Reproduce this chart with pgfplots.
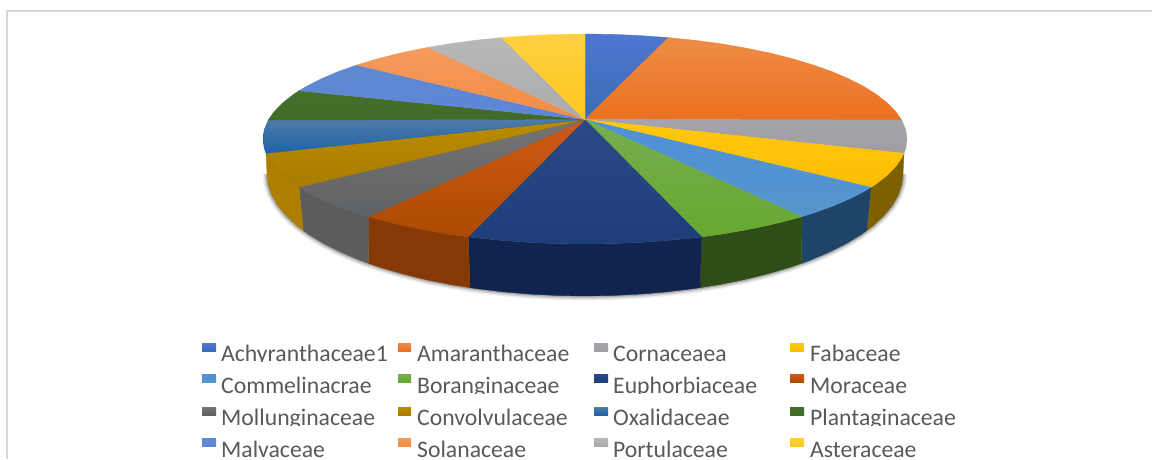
\documentclass[border=0pt]{standalone}
\usepackage{pgfplots}
\usepackage{pgfplotstable}
\usepackage{fontspec}
\setmainfont{Carlito}
\pgfplotsset{compat=1.18}
\pgfplotstableread{
x y
267 174
268.2 184.6
271.8 195.2
277.8 205.6
286.2 215.7
296.8 225.6
309.6 235
324.5 244
341.4 252.4
360.1 260.3
380.6 267.5
402.6 273.9
426 279.7
450.6 284.6
476.2 288.6
502.7 291.8
529.8 294.1
557.3 295.5
585 296
612.7 295.5
640.2 294.1
667.3 291.8
693.8 288.6
719.4 284.6
744 279.7
767.4 273.9
789.4 267.5
809.9 260.3
828.6 252.4
845.5 244
860.4 235
873.2 225.6
883.8 215.7
892.2 205.6
898.2 195.2
901.8 184.6
903 174
}\shadowarc
\newcommand{\legrow}[5]{%
  \begin{scope}
    \clip (axis cs:195,#1-24) rectangle (axis cs:1000,#1+0.8);
    \node[anchor=base west,inner sep=0,text=txt] at (axis cs:221,#1) {\fontsize{23.7}{28}\selectfont #2};
    \node[anchor=base west,inner sep=0,text=txt] at (axis cs:417,#1) {\fontsize{23.7}{28}\selectfont #3};
    \node[anchor=base west,inner sep=0,text=txt] at (axis cs:613,#1) {\fontsize{23.7}{28}\selectfont #4};
    \node[anchor=base west,inner sep=0,text=txt] at (axis cs:810,#1) {\fontsize{23.7}{28}\selectfont #5};
  \end{scope}}
\definecolor{txt}{HTML}{595959}
\definecolor{frame}{HTML}{D9D9D9}
\definecolor{c1}{HTML}{4472C4}\definecolor{c1a}{HTML}{4F76D2}\definecolor{c1b}{HTML}{3A6CB5}
\definecolor{c2}{HTML}{ED7D31}\definecolor{c2a}{HTML}{EE8C45}\definecolor{c2b}{HTML}{EC7020}
\definecolor{c3}{HTML}{A5A5A5}\definecolor{c3a}{HTML}{A6A4AC}\definecolor{c3b}{HTML}{9E9E9E}
\definecolor{c4}{HTML}{FFC000}\definecolor{c4a}{HTML}{FFC80E}\definecolor{c4b}{HTML}{FDBD00}
\definecolor{c5}{HTML}{5B9BD5}\definecolor{c5a}{HTML}{4F8FD8}\definecolor{c5b}{HTML}{5596CC}
\definecolor{c6}{HTML}{70AD47}\definecolor{c6a}{HTML}{76AE50}\definecolor{c6b}{HTML}{66A82F}
\definecolor{c7}{HTML}{264478}\definecolor{c7a}{HTML}{2A4A85}\definecolor{c7b}{HTML}{1D3E78}
\definecolor{c8}{HTML}{9E480E}\definecolor{c8a}{HTML}{D05A14}\definecolor{c8b}{HTML}{AC4A00}
\definecolor{c9}{HTML}{636363}\definecolor{c9a}{HTML}{757375}\definecolor{c9b}{HTML}{5F6264}
\definecolor{c10}{HTML}{997300}\definecolor{c10a}{HTML}{BB8C00}\definecolor{c10b}{HTML}{A87C00}
\definecolor{c11}{HTML}{255E91}\definecolor{c11a}{HTML}{4F7BA6}\definecolor{c11b}{HTML}{1C63A8}
\definecolor{c12}{HTML}{43682B}\definecolor{c12a}{HTML}{44702B}\definecolor{c12b}{HTML}{426A28}
\definecolor{c13}{HTML}{698ED0}\definecolor{c13a}{HTML}{5E8ACF}\definecolor{c13b}{HTML}{5E84DA}
\definecolor{c14}{HTML}{F1975A}\definecolor{c14a}{HTML}{F59A5E}\definecolor{c14b}{HTML}{F28C42}
\definecolor{c15}{HTML}{B7B7B7}\definecolor{c15a}{HTML}{B8B8B8}\definecolor{c15b}{HTML}{ABABAB}
\definecolor{c16}{HTML}{FFCD33}\definecolor{c16a}{HTML}{FFCF40}\definecolor{c16b}{HTML}{FFC81E}
\definecolor{s4}{HTML}{7F6000}
\definecolor{s5}{HTML}{1E4468}
\definecolor{s6}{HTML}{2F4D17}
\definecolor{s7}{HTML}{10244F}
\definecolor{s8}{HTML}{853A05}
\definecolor{s9}{HTML}{5A5C5E}
\definecolor{s10}{HTML}{AE7E00}
\pgfplotsset{
  wedge/.style={draw=c#1,line width=0.3pt,top color=c#1a,bottom color=c#1b},
  side/.style={draw=s#1,line width=0.3pt,fill=s#1},
  swatch/.style={draw=none,top color=c#1a,bottom color=c#1b}
}
\begin{document}
\begin{tikzpicture}
\begin{axis}[
  width=1152pt,height=459pt,scale only axis,
  xmin=0,xmax=1152,ymin=0,ymax=459,y dir=reverse,
  hide axis,
]
% full page extent
\path (axis cs:0,0) rectangle (axis cs:1152,459);
% frame
\addplot[draw=frame,line width=2pt] coordinates {(7,459) (7,10.5) (1152,10.5)};
% shadow
\addplot[draw=black,opacity=0.07,line width=9pt] table {\shadowarc};
\addplot[draw=black,opacity=0.12,line width=6pt] table {\shadowarc};
\addplot[draw=black,opacity=0.18,line width=3pt] table {\shadowarc};
% sides
\addplot[side=4] coordinates {(904,153.3) (902.1,157.2) (896,166.2) (887.6,174.9) (876.8,183.4) (871,187.3) (866.7,230.6) (873.2,225.6) (883.8,215.7) (892.2,205.6) (898.2,195.2) (901.8,184.6) (903,174)} -- cycle;
\addplot[side=5] coordinates {(871,187.3) (863.9,191.5) (848.8,199.2) (831.7,206.5) (812.7,213.2) (801.6,216.7) (801.7,263.3) (809.9,260.3) (828.6,252.4) (845.5,244) (860.4,235) (866.7,230.6)} -- cycle;
\addplot[side=6] coordinates {(801.6,216.7) (792,219.4) (769.7,225) (746,229.9) (721.1,234.2) (701.7,236.9) (700,287.7) (719.4,284.6) (744,279.7) (767.4,273.9) (789.4,267.5) (801.7,263.3)} -- cycle;
\addplot[side=7] coordinates {(701.7,236.9) (695.1,237.7) (668.3,240.4) (640.9,242.4) (613.1,243.6) (585,244) (556.9,243.6) (529.1,242.4) (501.7,240.4) (474.9,237.7) (468.3,236.9) (470,287.7) (476.2,288.6) (502.7,291.8) (529.8,294.1) (557.3,295.5) (585,296) (612.7,295.5) (640.2,294.1) (667.3,291.8) (693.8,288.6) (700,287.7)} -- cycle;
\addplot[side=8] coordinates {(468.3,236.9) (448.9,234.2) (424,229.9) (400.3,225) (378,219.4) (368.4,216.7) (368.3,263.3) (380.6,267.5) (402.6,273.9) (426,279.7) (450.6,284.6) (470,287.7)} -- cycle;
\addplot[side=9] coordinates {(368.4,216.7) (357.3,213.2) (338.3,206.5) (321.2,199.2) (306.1,191.5) (299,187.3) (303.3,230.6) (309.6,235) (324.5,244) (341.4,252.4) (360.1,260.3) (368.3,263.3)} -- cycle;
\addplot[side=10] coordinates {(299,187.3) (293.2,183.4) (282.4,174.9) (274,166.2) (267.9,157.2) (266,153.3) (267,174) (268.2,184.6) (271.8,195.2) (277.8,205.6) (286.2,215.7) (296.8,225.6) (303.3,230.6)} -- cycle;
% top face
\addplot[wedge=1] coordinates {(585,119.5) (585,34) (613.1,34.4) (640.9,35.6) (668.3,37.6)} -- cycle;
\addplot[wedge=2] coordinates {(585,119.5) (668.3,37.6) (695.1,40.3) (721.1,43.8) (746,48.1) (769.7,53) (792,58.6) (812.7,64.8) (831.7,71.5) (848.8,78.8) (863.9,86.5) (876.8,94.6) (887.6,103.1) (896,111.8) (901.7,120)} -- cycle;
\addplot[wedge=3] coordinates {(585,119.5) (901.7,120) (905.8,129.8) (907,139) (905.8,148.2) (904,153.3)} -- cycle;
\addplot[wedge=4] coordinates {(585,119.5) (904,153.3) (902.1,157.2) (896,166.2) (887.6,174.9) (876.8,183.4) (871,187.3)} -- cycle;
\addplot[wedge=5] coordinates {(585,119.5) (871,187.3) (863.9,191.5) (848.8,199.2) (831.7,206.5) (812.7,213.2) (801.6,216.7)} -- cycle;
\addplot[wedge=6] coordinates {(585,119.5) (801.6,216.7) (792,219.4) (769.7,225) (746,229.9) (721.1,234.2) (701.7,236.9)} -- cycle;
\addplot[wedge=7] coordinates {(585,119.5) (701.7,236.9) (695.1,237.7) (668.3,240.4) (640.9,242.4) (613.1,243.6) (585,244) (556.9,243.6) (529.1,242.4) (501.7,240.4) (474.9,237.7) (468.3,236.9)} -- cycle;
\addplot[wedge=8] coordinates {(585,119.5) (468.3,236.9) (448.9,234.2) (424,229.9) (400.3,225) (378,219.4) (368.4,216.7)} -- cycle;
\addplot[wedge=9] coordinates {(585,119.5) (368.4,216.7) (357.3,213.2) (338.3,206.5) (321.2,199.2) (306.1,191.5) (299,187.3)} -- cycle;
\addplot[wedge=10] coordinates {(585,119.5) (299,187.3) (293.2,183.4) (282.4,174.9) (274,166.2) (267.9,157.2) (266,153.3)} -- cycle;
\addplot[wedge=11] coordinates {(585,119.5) (266,153.3) (264.2,148.2) (263,139) (264.2,129.8) (268.3,120)} -- cycle;
\addplot[wedge=12] coordinates {(585,119.5) (268.3,120) (274,111.8) (282.4,103.1) (293.2,94.6) (299,90.7)} -- cycle;
\addplot[wedge=13] coordinates {(585,119.5) (299,90.7) (306.1,86.5) (321.2,78.8) (338.3,71.5) (356.7,65)} -- cycle;
\addplot[wedge=14] coordinates {(585,119.5) (356.7,65) (378,58.6) (400.3,53) (424,48.1) (428,47.3)} -- cycle;
\addplot[wedge=15] coordinates {(585,119.5) (428,47.3) (448.9,43.8) (474.9,40.3) (501.7,37.6)} -- cycle;
\addplot[wedge=16] coordinates {(585,119.5) (501.7,37.6) (529.1,35.6) (556.9,34.4) (585,34)} -- cycle;
% legend swatches
\addplot[swatch=1] coordinates {(202,343) (216,343) (216,351) (202,351)} -- cycle;
\addplot[swatch=2] coordinates {(398,343) (411,343) (411,351) (398,351)} -- cycle;
\addplot[swatch=3] coordinates {(594,343) (608,343) (608,351) (594,351)} -- cycle;
\addplot[swatch=4] coordinates {(790,343) (804,343) (804,351) (790,351)} -- cycle;
\addplot[swatch=5] coordinates {(202,374) (216,374) (216,382) (202,382)} -- cycle;
\addplot[swatch=6] coordinates {(398,374) (411,374) (411,382) (398,382)} -- cycle;
\addplot[swatch=7] coordinates {(594,374) (608,374) (608,382) (594,382)} -- cycle;
\addplot[swatch=8] coordinates {(790,374) (804,374) (804,382) (790,382)} -- cycle;
\addplot[swatch=9] coordinates {(202,407) (216,407) (216,415) (202,415)} -- cycle;
\addplot[swatch=10] coordinates {(398,407) (411,407) (411,415) (398,415)} -- cycle;
\addplot[swatch=11] coordinates {(594,407) (608,407) (608,415) (594,415)} -- cycle;
\addplot[swatch=12] coordinates {(790,407) (804,407) (804,415) (790,415)} -- cycle;
\addplot[swatch=13] coordinates {(202,438) (216,438) (216,446) (202,446)} -- cycle;
\addplot[swatch=14] coordinates {(398,438) (411,438) (411,446) (398,446)} -- cycle;
\addplot[swatch=15] coordinates {(594,438) (608,438) (608,446) (594,446)} -- cycle;
\addplot[swatch=16] coordinates {(790,438) (804,438) (804,446) (790,446)} -- cycle;
% legend text
\legrow{361}{Achyranthaceae1}{Amaranthaceae}{Cornaceaea}{Fabaceae}
\legrow{393}{Commelinacrae}{Boranginaceae}{Euphorbiaceae}{Moraceae}
\legrow{425}{Mollunginaceae}{Convolvulaceae}{Oxalidaceae}{Plantaginaceae}
\legrow{457}{Malvaceae}{Solanaceae}{Portulaceae}{Asteraceae}
\end{axis}
\end{tikzpicture}
\end{document}
